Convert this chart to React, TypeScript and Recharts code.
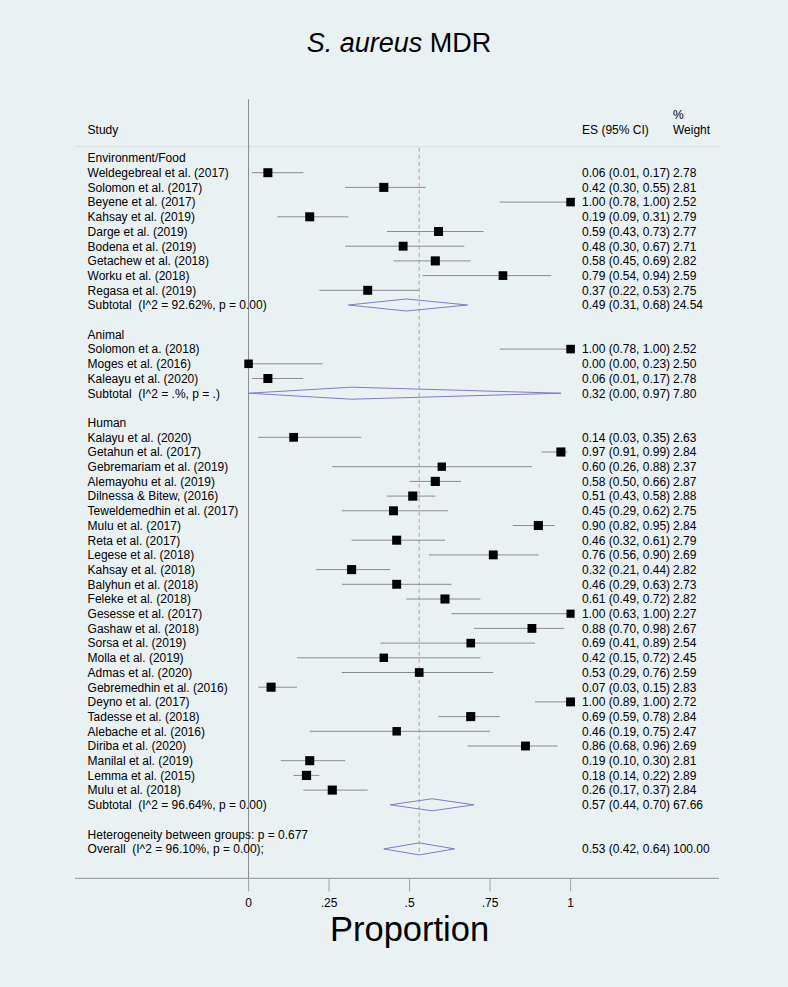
import React from 'react';
import { ScatterChart, Scatter, XAxis, YAxis, ReferenceLine, ErrorBar, Label } from 'recharts';

// ---------- data ----------
const GROUPS = ['Environment/Food', 'Animal', 'Human'];

const ENV_STUDIES = [
  'Weldegebreal et al. (2017)', 'Solomon et al. (2017)', 'Beyene et al. (2017)', 'Kahsay et al. (2019)',
  'Darge et al. (2019)', 'Bodena et al. (2019)', 'Getachew et al. (2018)', 'Worku et al. (2018)', 'Regasa et al. (2019)',
];
const ENV_ES = [0.06, 0.42, 1.0, 0.19, 0.59, 0.48, 0.58, 0.79, 0.37];
const ENV_LO = [0.01, 0.30, 0.78, 0.09, 0.43, 0.30, 0.45, 0.54, 0.22];
const ENV_HI = [0.17, 0.55, 1.0, 0.31, 0.73, 0.67, 0.69, 0.94, 0.53];
const ENV_W = [2.78, 2.81, 2.52, 2.79, 2.77, 2.71, 2.82, 2.59, 2.75];

const ANIMAL_STUDIES = ['Solomon et a. (2018)', 'Moges et al. (2016)', 'Kaleayu et al. (2020)'];
const ANIMAL_ES = [1.0, 0.0, 0.06];
const ANIMAL_LO = [0.78, 0.0, 0.01];
const ANIMAL_HI = [1.0, 0.23, 0.17];
const ANIMAL_W = [2.52, 2.50, 2.78];

const HUMAN_STUDIES = [
  'Kalayu et al. (2020)', 'Getahun et al. (2017)', 'Gebremariam et al. (2019)', 'Alemayohu et al. (2019)',
  'Dilnessa & Bitew, (2016)', 'Teweldemedhin et al. (2017)', 'Mulu et al. (2017)', 'Reta et al. (2017)',
  'Legese et al. (2018)', 'Kahsay et al. (2018)', 'Balyhun et al. (2018)', 'Feleke et al. (2018)',
  'Gesesse et al. (2017)', 'Gashaw et al. (2018)', 'Sorsa et al. (2019)', 'Molla et al. (2019)',
  'Admas et al. (2020)', 'Gebremedhin et al. (2016)', 'Deyno et al. (2017)', 'Tadesse et al. (2018)',
  'Alebache et al. (2016)', 'Diriba et al. (2020)', 'Manilal et al. (2019)', 'Lemma et al. (2015)', 'Mulu et al. (2018)',
];
const HUMAN_ES = [0.14, 0.97, 0.60, 0.58, 0.51, 0.45, 0.90, 0.46, 0.76, 0.32, 0.46, 0.61, 1.0, 0.88, 0.69, 0.42, 0.53, 0.07, 1.0, 0.69, 0.46, 0.86, 0.19, 0.18, 0.26];
const HUMAN_LO = [0.03, 0.91, 0.26, 0.50, 0.43, 0.29, 0.82, 0.32, 0.56, 0.21, 0.29, 0.49, 0.63, 0.70, 0.41, 0.15, 0.29, 0.03, 0.89, 0.59, 0.19, 0.68, 0.10, 0.14, 0.17];
const HUMAN_HI = [0.35, 0.99, 0.88, 0.66, 0.58, 0.62, 0.95, 0.61, 0.90, 0.44, 0.63, 0.72, 1.0, 0.98, 0.89, 0.72, 0.76, 0.15, 1.0, 0.78, 0.75, 0.96, 0.30, 0.22, 0.37];
const HUMAN_W = [2.63, 2.84, 2.37, 2.87, 2.88, 2.75, 2.84, 2.79, 2.69, 2.82, 2.73, 2.82, 2.27, 2.67, 2.54, 2.45, 2.59, 2.83, 2.72, 2.84, 2.47, 2.69, 2.81, 2.89, 2.84];

const SUBTOTAL_LABELS = [
  'Subtotal  (I^2 = 92.62%, p = 0.00)',
  'Subtotal  (I^2 = .%, p = .)',
  'Subtotal  (I^2 = 96.64%, p = 0.00)',
];
const SUBTOTAL_ES = [0.49, 0.32, 0.57];
const SUBTOTAL_LO = [0.31, 0.00, 0.44];
const SUBTOTAL_HI = [0.68, 0.97, 0.70];
const SUBTOTAL_W = [24.54, 7.80, 67.66];

const HET_LABEL = 'Heterogeneity between groups: p = 0.677';
const OVERALL_LABEL = 'Overall  (I^2 = 96.10%, p = 0.00);';
const OVERALL_ES = 0.53;
const OVERALL_LO = 0.42;
const OVERALL_HI = 0.64;
const OVERALL_W = 100.0;

const X_TICKS = [0, 0.25, 0.5, 0.75, 1];

// ---------- layout constants ----------
const X_DOMAIN: [number, number] = [-0.539, 1.461];
const Y_DOMAIN: [number, number] = [-4, 49];
const LABEL_X = -0.5;
const ES_X = 1.0357;
const W_X = 1.318;
const DIAMOND_HALF = 0.41;
const FONT = '"Liberation Sans", Arial, Helvetica, sans-serif';

// ---------- build rows ----------
type Row = { x: number; y: number; label?: string; es?: number; lo?: number; hi?: number; w?: number; esText?: string; wText?: string; err?: [number, number] };

const groupData = [
  { studies: ENV_STUDIES, es: ENV_ES, lo: ENV_LO, hi: ENV_HI, w: ENV_W },
  { studies: ANIMAL_STUDIES, es: ANIMAL_ES, lo: ANIMAL_LO, hi: ANIMAL_HI, w: ANIMAL_W },
  { studies: HUMAN_STUDIES, es: HUMAN_ES, lo: HUMAN_LO, hi: HUMAN_HI, w: HUMAN_W },
];

const fmtES = (es: number, lo: number, hi: number) => `${es.toFixed(2)} (${lo.toFixed(2)}, ${hi.toFixed(2)})`;

const labelRows: Row[] = [];
const esRows: Row[] = [];
const wRows: Row[] = [];
const studyPoints: Row[] = [];
const diamonds: { key: string; pts: { x: number; y: number }[] }[] = [];

const addDiamond = (key: string, es: number, lo: number, hi: number, y: number) => {
  diamonds.push({
    key,
    pts: [
      { x: lo, y },
      { x: es, y: y - DIAMOND_HALF },
      { x: hi, y },
      { x: es, y: y + DIAMOND_HALF },
      { x: lo, y },
    ],
  });
};

let r = 0;
groupData.forEach((g, gi) => {
  labelRows.push({ x: LABEL_X, y: r, label: GROUPS[gi] });
  r++;
  g.studies.forEach((name, i) => {
    labelRows.push({ x: LABEL_X, y: r, label: name });
    esRows.push({ x: ES_X, y: r, esText: fmtES(g.es[i], g.lo[i], g.hi[i]) });
    wRows.push({ x: W_X, y: r, wText: g.w[i].toFixed(2) });
    studyPoints.push({ x: g.es[i], y: r, w: g.w[i], err: [g.es[i] - g.lo[i], g.hi[i] - g.es[i]] });
    r++;
  });
  labelRows.push({ x: LABEL_X, y: r, label: SUBTOTAL_LABELS[gi] });
  esRows.push({ x: ES_X, y: r, esText: fmtES(SUBTOTAL_ES[gi], SUBTOTAL_LO[gi], SUBTOTAL_HI[gi]) });
  wRows.push({ x: W_X, y: r, wText: SUBTOTAL_W[gi].toFixed(2) });
  addDiamond('sub' + gi, SUBTOTAL_ES[gi], SUBTOTAL_LO[gi], SUBTOTAL_HI[gi], r);
  r++;
  r++; // blank row
});
labelRows.push({ x: LABEL_X, y: r, label: HET_LABEL });
r++;
const overallRow = r;
labelRows.push({ x: LABEL_X, y: r, label: OVERALL_LABEL });
esRows.push({ x: ES_X, y: r, esText: fmtES(OVERALL_ES, OVERALL_LO, OVERALL_HI) });
wRows.push({ x: W_X, y: r, wText: OVERALL_W.toFixed(2) });
addDiamond('overall', OVERALL_ES, OVERALL_LO, OVERALL_HI, r);

// header rows
labelRows.push({ x: LABEL_X, y: -1.9, label: 'Study' });
esRows.push({ x: ES_X, y: -1.9, esText: 'ES (95% CI)' });
wRows.push({ x: W_X, y: -2.94, wText: '%' });
wRows.push({ x: W_X, y: -1.9, wText: 'Weight' });

// ---------- shapes ----------
const makeText = (key: 'label' | 'esText' | 'wText', size: number) => (props: any) => {
  const { cx, cy, payload } = props;
  return (
    <text
      x={cx}
      y={cy}
      dy="0.36em"
      fontSize={size}
      fontFamily={FONT}
      fill="#000"
      style={{ whiteSpace: 'pre' }}
    >
      {payload[key]}
    </text>
  );
};

const SquareShape = (props: any) => {
  const { cx, cy, payload } = props;
  const s = 9 * Math.sqrt(payload.w / 2.78);
  return <rect x={cx - s / 2} y={cy - s / 2} width={s} height={s} fill="#000" />;
};

const Empty = () => <g />;

const tickFmt = (v: number) => (v === 0 ? '0' : v === 1 ? '1' : String(v).replace(/^0/, ''));

const ProportionLabel = (props: any) => {
  const vb = props.viewBox || { x: 75, y: 878, width: 644, height: 60 };
  const zeroFrac = -X_DOMAIN[0] / (X_DOMAIN[1] - X_DOMAIN[0]);
  const oneFrac = (1 - X_DOMAIN[0]) / (X_DOMAIN[1] - X_DOMAIN[0]);
  const cx = vb.x + vb.width * (zeroFrac + oneFrac) / 2;
  return (
    <text x={cx} y={vb.y + 63} textAnchor="middle" fontSize={34.5} fontFamily={FONT} fill="#000">
      Proportion
    </text>
  );
};

export default function App() {
  return (
    <div style={{ position: 'absolute', left: 0, top: 0, width: 788, height: 987, background: '#eaf1f3', fontFamily: FONT }}>
      <div
        style={{
          position: 'absolute',
          top: 28,
          left: 5,
          width: 788,
          textAlign: 'center',
          fontSize: 27,
          lineHeight: '30px',
          color: '#000',
          fontFamily: FONT,
        }}
      >
        <span style={{ fontStyle: 'italic' }}>S. aureus</span> MDR
      </div>
      <ScatterChart
        width={788}
        height={987}
        margin={{ top: 99.2, right: 69, bottom: 48.7, left: 75 }}
        style={{ position: 'absolute', left: 0, top: 0 }}
      >
        <XAxis
          type="number"
          dataKey="x"
          domain={X_DOMAIN}
          allowDataOverflow
          ticks={X_TICKS}
          tickFormatter={tickFmt}
          height={60}
          tickSize={13}
          tickMargin={7}
          tick={{ fontSize: 12, fill: '#000', fontFamily: FONT }}
          axisLine={{ stroke: '#a3a3a3', strokeWidth: 1.3 }}
          tickLine={{ stroke: '#a3a3a3', strokeWidth: 1 }}
          label={<Label content={ProportionLabel} />}
        />
        <YAxis type="number" dataKey="y" domain={Y_DOMAIN} allowDataOverflow reversed hide />

        <ReferenceLine y={-0.77} stroke="#d8dfe1" strokeWidth={1} />
        <ReferenceLine x={0} stroke="#8a8a8a" strokeWidth={1} />
        <ReferenceLine
          segment={[{ x: OVERALL_ES, y: -0.7 }, { x: OVERALL_ES, y: overallRow + DIAMOND_HALF }]}
          stroke="#d09393"
          strokeWidth={1}
          strokeDasharray="4 3"
        />

        {diamonds.map((d) => (
          <Scatter
            key={d.key}
            data={d.pts}
            line={{ stroke: '#7d7dc8', strokeWidth: 1 }}
            lineType="joint"
            shape={Empty}
            isAnimationActive={false}
          />
        ))}

        <Scatter data={studyPoints} shape={SquareShape} isAnimationActive={false}>
          <ErrorBar dataKey="err" direction="x" width={0} stroke="#8c8c8c" strokeWidth={1} isAnimationActive={false} />
        </Scatter>

        <Scatter data={labelRows} shape={makeText('label', 12)} isAnimationActive={false} />
        <Scatter data={esRows} shape={makeText('esText', 12)} isAnimationActive={false} />
        <Scatter data={wRows} shape={makeText('wText', 12)} isAnimationActive={false} />
      </ScatterChart>
    </div>
  );
}
